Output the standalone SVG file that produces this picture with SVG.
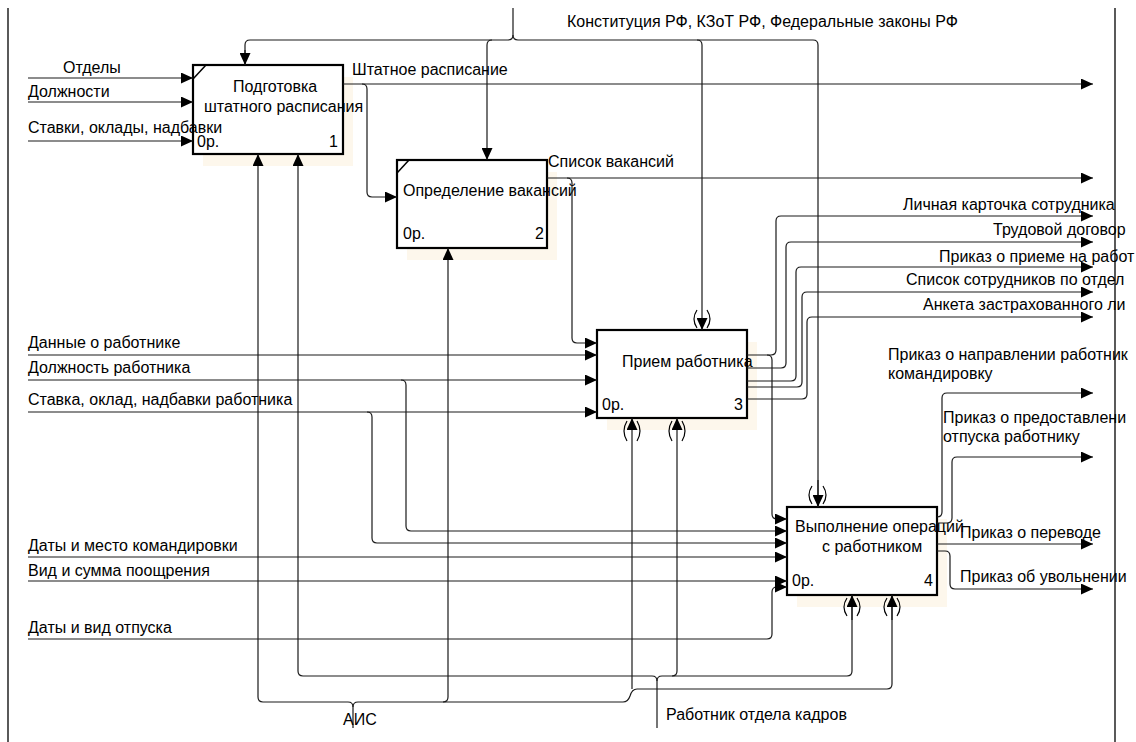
<svg xmlns="http://www.w3.org/2000/svg" width="1136" height="742" viewBox="0 0 1136 742">
<defs>
<marker id="ah" markerUnits="userSpaceOnUse" markerWidth="12" markerHeight="11" refX="12" refY="5.5" orient="auto">
<path d="M0,0 L12,5.5 L0,11 z" fill="#000"/>
</marker>
<style>
text{font-family:"Liberation Sans",Arial,sans-serif;font-size:16px;fill:#000}
.c{fill:none;stroke:#1a1a1a;stroke-width:1.2}
.a{marker-end:url(#ah)}
.box{fill:#fff;stroke:#000;stroke-width:2.2}
.sh{fill:#fdf7ec;stroke:none}
.p{fill:none;stroke:#000;stroke-width:1.2}
.fr{stroke:#000;stroke-width:1.3}
</style>
</defs>
<rect width="1136" height="742" fill="#fff"/>
<g id="frame">
<line class="fr" x1="8" y1="8" x2="8" y2="742"/>
<line class="fr" x1="1115" y1="8" x2="1115" y2="742"/>
</g>
<g id="node1">
<rect class="sh" x="203" y="77" width="150" height="89"/>
<rect class="box" x="193" y="65" width="150" height="89"/>
<line x1="193" y1="79" x2="206" y2="65" stroke="#000" stroke-width="1.5"/>
<text x="233" y="92">Подготовка</text>
<text x="204" y="112">штатного расписания</text>
<text x="197" y="147">0р.</text>
<text x="338" y="147" text-anchor="end">1</text>
</g>
<g id="node2">
<rect class="sh" x="407" y="172" width="150" height="88"/>
<rect class="box" x="397" y="160" width="150" height="88"/>
<line x1="397" y1="173" x2="409" y2="160" stroke="#000" stroke-width="1.5"/>
<text x="403" y="196">Определение вакансий</text>
<text x="403" y="239">0р.</text>
<text x="544" y="239" text-anchor="end">2</text>
</g>
<g id="node3">
<rect class="sh" x="607" y="342" width="150" height="88"/>
<rect class="box" x="597" y="330" width="150" height="88"/>
<text x="622" y="367">Прием работника</text>
<text x="602" y="410">0р.</text>
<text x="743" y="410" text-anchor="end">3</text>
</g>
<g id="node4">
<rect class="sh" x="797" y="519" width="150" height="88"/>
<rect class="box" x="787" y="507" width="150" height="88"/>
<text x="795" y="532">Выполнение операций</text>
<text x="822" y="552">с работником</text>
<text x="792" y="586">0р.</text>
<text x="933" y="586" text-anchor="end">4</text>
</g>
<g id="connectors">
<path class="c" d="M513,8 V35 Q513,40 508,40 H250 Q245,40 245,45 V65"/>
<path class="c a" d="M245,50 V65"/>
<path class="c" d="M513,35 Q513,40 518,40 H813 Q818,40 818,45 V507"/>
<path class="c a" d="M818,480 V507"/>
<path class="c a" d="M492,40 Q487,40 487,45 V160"/>
<path class="c a" d="M697,40 Q702,40 702,45 V330"/>
<path class="c a" d="M28,78 H193"/>
<path class="c a" d="M28,102 H193"/>
<path class="c a" d="M28,141 H193"/>
<path class="c a" d="M343,84 H1093"/>
<path class="c a" d="M362,84 Q367,84 367,89 V192 Q367,197 372,197 H397"/>
<path class="c a" d="M547,178 H1093"/>
<path class="c a" d="M567,178 Q572,178 572,183 V338 Q572,343 577,343 H597"/>
<path class="c a" d="M28,355 H597"/>
<path class="c a" d="M28,380 H597"/>
<path class="c a" d="M28,412 H597"/>
<path class="c a" d="M401,380 Q406,380 406,385 V526 Q406,531 411,531 H787"/>
<path class="c a" d="M367,412 Q372,412 372,417 V538 Q372,543 377,543 H787"/>
<path class="c a" d="M747,355 H771 Q776,355 776,350 V221 Q776,216 781,216 H1093"/>
<path class="c a" d="M747,368 H781 Q786,368 786,363 V247 Q786,242 791,242 H1093"/>
<path class="c a" d="M747,381 H791 Q796,381 796,376 V272 Q796,267 801,267 H1093"/>
<path class="c a" d="M747,387 H797 Q802,387 802,382 V297 Q802,292 807,292 H1093"/>
<path class="c a" d="M747,399 H802 Q807,399 807,394 V322 Q807,317 812,317 H1093"/>
<path class="c a" d="M767,355 Q772,355 772,360 V514 Q772,519 777,519 H787"/>
<path class="c a" d="M28,557 H787"/>
<path class="c a" d="M28,581 H787"/>
<path class="c a" d="M28,639 H767 Q772,639 772,634 V592 Q772,587 777,587 H787"/>
<path class="c a" d="M937,517 Q942,517 942,512 V398 Q942,393 947,393 H1093"/>
<path class="c a" d="M937,523 H947 Q952,523 952,518 V462 Q952,457 957,457 H1093"/>
<path class="c a" d="M937,544 H1093"/>
<path class="c a" d="M937,551 H945 Q950,551 950,556 V584 Q950,589 955,589 H1093"/>
<path class="c a" d="M353,728 V707 Q353,702 348,702 H263 Q258,702 258,697 V154"/>
<path class="c" d="M353,707 Q353,702 358,702 H623 Q628,702 630,696 Q632,689 637,689 H887 Q892,689 892,684 V595"/>
<path class="c a" d="M892,620 V595"/>
<path class="c a" d="M443,702 Q448,702 448,697 V248"/>
<path class="c a" d="M632,689 V418"/>
<path class="c a" d="M657,728 V681 Q657,676 652,676 H303 Q298,676 298,671 V154"/>
<path class="c" d="M657,681 Q657,676 662,676 H847 Q852,676 852,671 V595"/>
<path class="c a" d="M852,620 V595"/>
<path class="c a" d="M672,676 Q677,676 677,671 V418"/>
</g>
<g id="tunnels">
<path class="p" d="M697,310 Q691,319 697,328 M707,310 Q713,319 707,328"/>
<path class="p" d="M627,421 Q621,431 627,441 M637,421 Q643,431 637,441"/>
<path class="p" d="M672,421 Q666,431 672,441 M682,421 Q688,431 682,441"/>
<path class="p" d="M812,486 Q806,495 812,504 M823,486 Q829,495 823,504"/>
<path class="p" d="M847,598 Q841,607 847,616 M857,598 Q863,607 857,616"/>
<path class="p" d="M887,598 Q881,607 887,616 M897,598 Q903,607 897,616"/>
</g>
<g id="labels">
<text x="567" y="27">Конституция РФ, КЗоТ РФ, Федеральные законы РФ</text>
<text x="63" y="73">Отделы</text>
<text x="28" y="97">Должности</text>
<text x="28" y="133">Ставки, оклады, надбавки</text>
<text x="352" y="75">Штатное расписание</text>
<text x="548" y="167">Список вакансий</text>
<text x="28" y="348">Данные о работнике</text>
<text x="28" y="373">Должность работника</text>
<text x="28" y="405">Ставка, оклад, надбавки работника</text>
<text x="28" y="551">Даты и место командировки</text>
<text x="28" y="576">Вид и сумма поощрения</text>
<text x="28" y="633">Даты и вид отпуска</text>
<text x="343" y="725">АИС</text>
<text x="666" y="720">Работник отдела кадров</text>
<text x="903" y="210">Личная карточка сотрудника</text>
<text x="993" y="235">Трудовой договор</text>
<text x="939" y="262">Приказ о приеме на работ</text>
<text x="906" y="285">Список сотрудников по отдел</text>
<text x="923" y="310">Анкета застрахованного ли</text>
<text x="888" y="360">Приказ о направлении работник</text>
<text x="888" y="379">командировку</text>
<text x="943" y="423">Приказ о предоставлени</text>
<text x="943" y="442">отпуска работнику</text>
<text x="960" y="538">Приказ о переводе</text>
<text x="960" y="582">Приказ об увольнении</text>
</g>
</svg>
